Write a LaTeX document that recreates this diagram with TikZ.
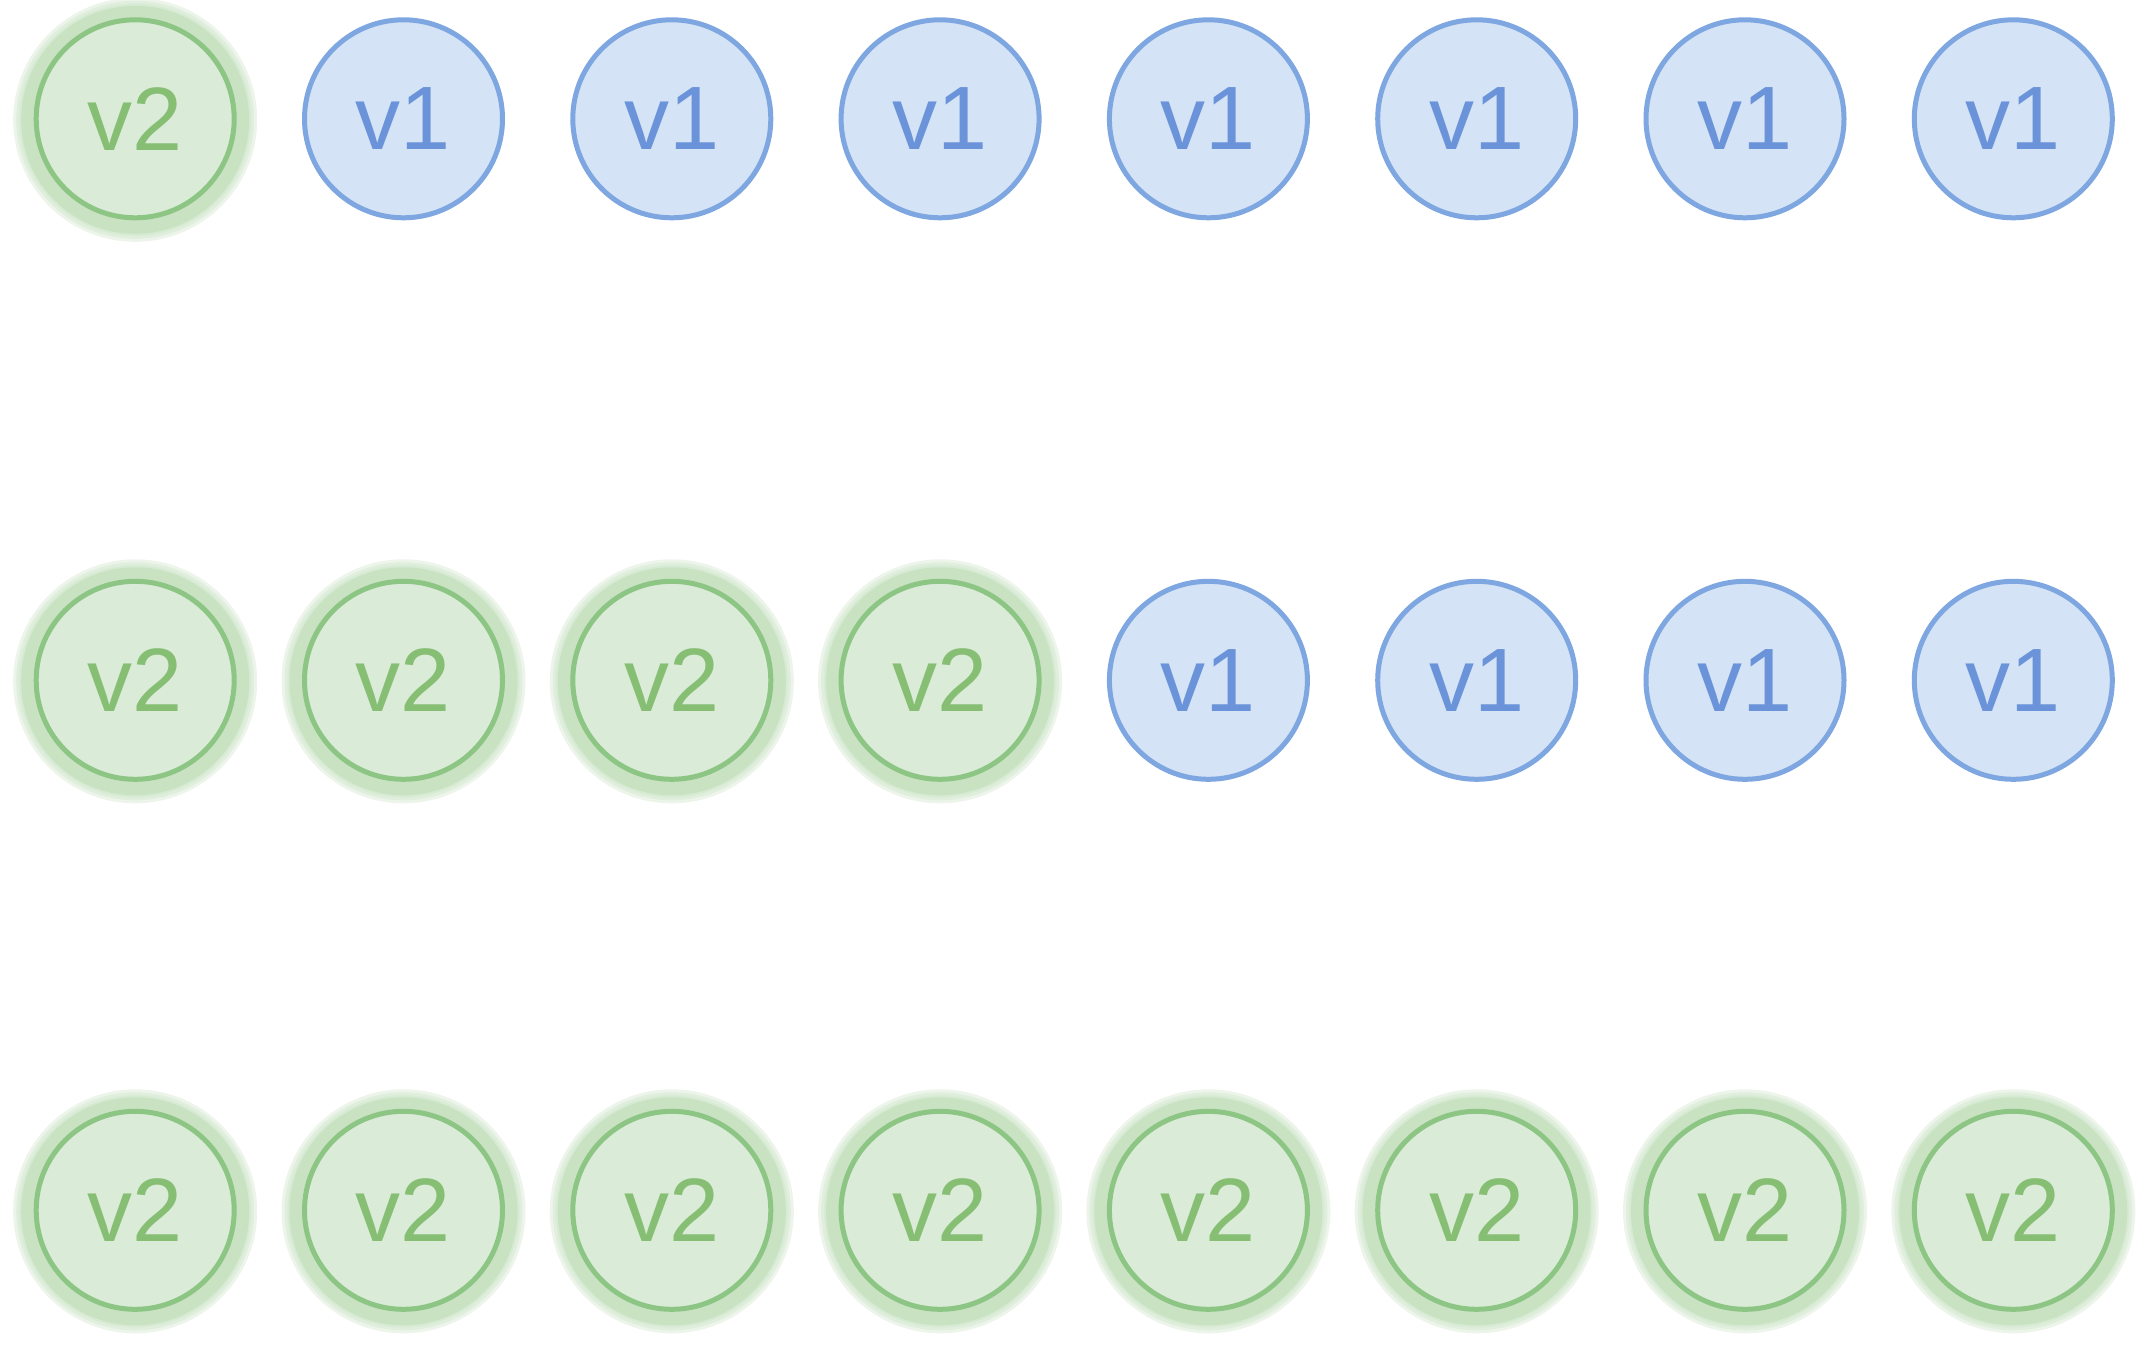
\documentclass[tikz,border=0pt]{standalone}
\usepackage{fontspec}
\setmainfont{Liberation Sans}
\definecolor{gfill}{HTML}{DAEBD7}
\definecolor{gline}{HTML}{8DC585}
\definecolor{gtext}{HTML}{86BF74}
\definecolor{gglow}{HTML}{C4E1BE}
\definecolor{bfill}{HTML}{D4E3F5}
\definecolor{bline}{HTML}{7EA6E0}
\definecolor{btext}{HTML}{6A93D9}
\begin{document}
\begin{tikzpicture}[x=0.5pt,y=-0.5pt,
  vnode/.style={circle,inner sep=0pt,minimum size=99pt,line width=2.5pt,font=\fontsize{45}{45}\selectfont},
  vone/.style={vnode,draw=bline,fill=bfill,text=btext},
  vtwo/.style={vnode,draw=gline,fill=gfill,text=gtext},
  glowring/.style={fill=gglow,fill opacity=0.3}]
\useasboundingbox (0,0) rectangle (2142,1350);
\fill[white] (0,0) rectangle (2142,1350);
% rows: y positions and number of green nodes
\foreach \row/\yy/\ng in {1/118.8/1, 2/680.3/4, 3/1210.3/8}{
  \foreach \col in {1,...,8}{
    \pgfmathsetmacro{\xx}{135.2+(\col-1)*268.3}
    \ifnum\col>\ng\relax
      \node[vone] (r\row c\col) at (\xx,\yy) {\raisebox{-2.5pt}{v1}};
    \else
      \fill[gglow,opacity=0.75] (\xx,\yy+1) circle[radius=114];
      \foreach \rr in {122,119,116}{
        \fill[glowring] (\xx,\yy+1) circle[radius=\rr];
      }
      \node[vtwo] (r\row c\col) at (\xx,\yy) {\raisebox{-2.5pt}{v2}};
    \fi
  }
}
\end{tikzpicture}
\end{document}
